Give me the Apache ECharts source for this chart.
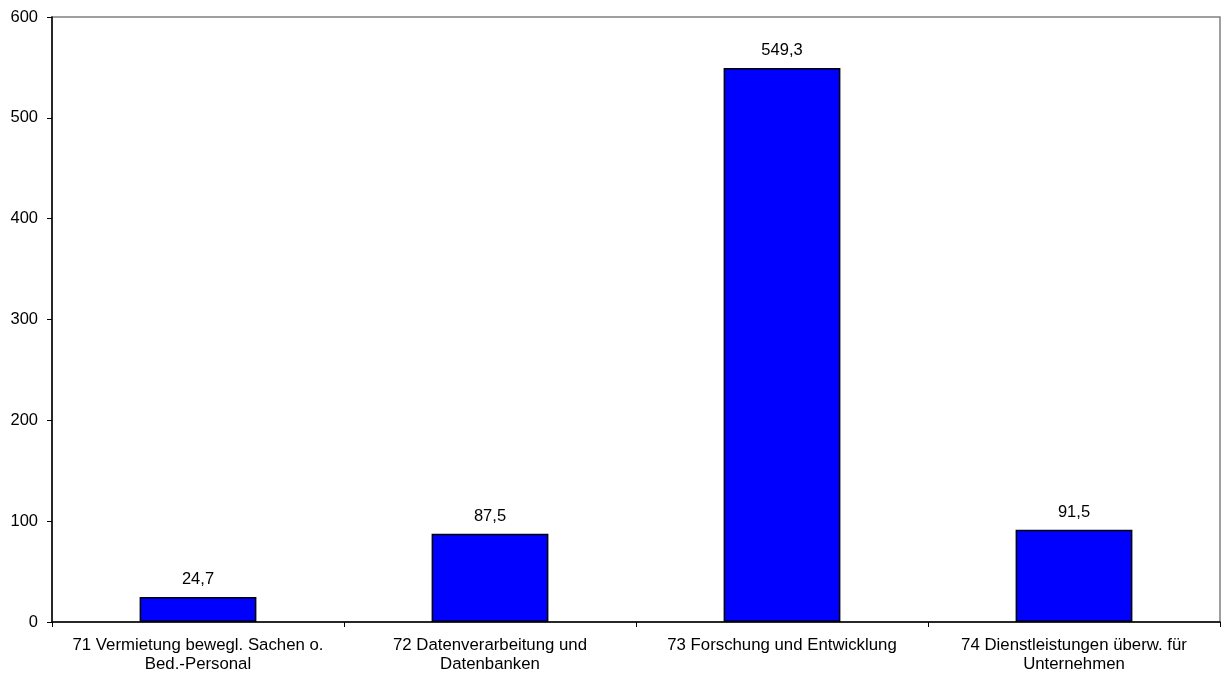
<!DOCTYPE html>
<html><head><meta charset="utf-8">
<script src="https://cdn.jsdelivr.net/npm/echarts@6/dist/echarts.min.js"></script>
<style>html,body{margin:0;padding:0;background:#fff}#c{width:1221px;height:677px}</style>
</head><body><div id="c"></div>
<script>
const categories = ["71 Vermietung bewegl. Sachen o.\nBed.-Personal", "72 Datenverarbeitung und\nDatenbanken", "73 Forschung und Entwicklung", "74 Dienstleistungen überw. für\nUnternehmen"];
const values = [24.7, 87.5, 549.3, 91.5];
const yTicks = [0, 100, 200, 300, 400, 500, 600];

const chart = echarts.init(document.getElementById('c'));
const font = 'Liberation Sans, Arial, sans-serif';
chart.setOption({
  animation: false,
  grid: {left: 52, right: 1, top: 17, bottom: 55, show: true, borderColor: '#808080', borderWidth: 1.5, backgroundColor: '#fff'},
  xAxis: {
    type: 'category', data: categories,
    axisLine: {lineStyle: {color: '#000', width: 1.5}},
    axisTick: {show: true, length: 5, lineStyle: {color: '#000'}},
    axisLabel: {color: '#000', fontFamily: font, fontSize: 16.8, lineHeight: 19, margin: 14, interval: 0}
  },
  yAxis: {
    type: 'value', min: yTicks[0], max: yTicks[yTicks.length-1], interval: 100,
    axisLine: {show: true, lineStyle: {color: '#000', width: 1.5}},
    axisTick: {show: true, length: 5, lineStyle: {color: '#000'}},
    splitLine: {show: false},
    axisLabel: {color: '#000', fontFamily: font, fontSize: 16.5, margin: 14}
  },
  series: [{
    type: 'bar', data: values, barCategoryGap: '60%',
    itemStyle: {color: '#0000FF', borderColor: '#000', borderWidth: 1.5},
    label: {show: true, position: 'top', distance: 9, color: '#000', fontFamily: font, fontSize: 16.5,
      formatter: p => p.value.toFixed(1).replace('.', ',')}
  }]
});
</script></body></html>
